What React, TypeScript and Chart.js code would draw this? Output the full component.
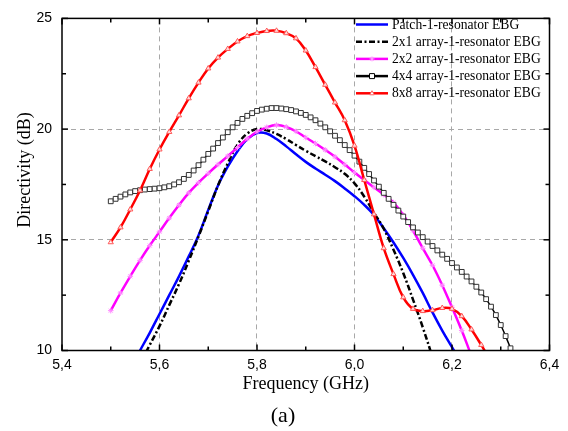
import React, { useEffect, useRef } from "react";
import { Chart, registerables } from "chart.js";

Chart.register(...registerables);

// ---------- data ----------
const seriesNames = [
  "Patch-1-resonator EBG",
  "2x1 array-1-resonator EBG",
  "2x2 array-1-resonator EBG",
  "4x4 array-1-resonator EBG",
  "8x8 array-1-resonator EBG",
];

const xMajorTicks = [5.4, 5.6, 5.8, 6.0, 6.2, 6.4];
const xMinorTicks = [5.5, 5.7, 5.9, 6.1, 6.3];
const yMajorTicks = [10, 15, 20, 25];
const yMinorTicks = [12.5, 17.5, 22.5];

const freqPatch = [
  5.54, 5.56, 5.58, 5.6, 5.62, 5.64, 5.66, 5.68, 5.7, 5.72, 5.74, 5.76, 5.78, 5.8, 5.82, 5.84, 5.86, 5.88,
  5.9, 5.92, 5.94, 5.96, 5.98, 6.0, 6.02, 6.04, 6.06, 6.08, 6.1, 6.12, 6.14, 6.16, 6.18, 6.2, 6.22,
];
const dirPatch = [
  9.2, 10.0, 10.8, 11.65, 12.5, 13.35, 14.25, 15.2, 16.35, 17.45, 18.3, 19.0, 19.55, 19.82, 19.8, 19.55, 19.22, 18.86,
  18.52, 18.22, 17.94, 17.65, 17.32, 16.97, 16.58, 16.12, 15.52, 14.88, 14.18, 13.42, 12.6, 11.72, 10.9, 10.15, 9.4,
];

const freq2x1 = [
  5.56, 5.58, 5.6, 5.62, 5.64, 5.66, 5.68, 5.7, 5.72, 5.74, 5.76, 5.78, 5.8, 5.82, 5.84, 5.86, 5.88, 5.9,
  5.92, 5.94, 5.96, 5.98, 6.0, 6.02, 6.04, 6.06, 6.08, 6.1, 6.12, 6.14, 6.16,
];
const dir2x1 = [
  9.4, 10.25, 11.1, 12.05, 13.0, 14.05, 15.15, 16.3, 17.45, 18.45, 19.3, 19.8, 20.0, 19.95, 19.78, 19.55, 19.28, 19.02,
  18.78, 18.54, 18.28, 17.98, 17.55, 16.95, 16.22, 15.5, 14.55, 13.5, 12.3, 11.05, 9.7,
];

const freq2x2 = [
  5.5, 5.52, 5.54, 5.56, 5.58, 5.6, 5.62, 5.64, 5.66, 5.68, 5.7, 5.72, 5.74, 5.76, 5.78, 5.8, 5.82, 5.84, 5.86,
  5.88, 5.9, 5.92, 5.94, 5.96, 5.98, 6.0, 6.02, 6.04, 6.06, 6.08, 6.1, 6.12, 6.14, 6.16, 6.18, 6.2, 6.22, 6.24,
];
const dir2x2 = [
  11.8, 12.6, 13.35, 14.07, 14.74, 15.36, 15.98, 16.57, 17.12, 17.58, 18.0, 18.4, 18.78, 19.17, 19.56, 19.88, 20.08,
  20.18, 20.1, 19.9, 19.62, 19.35, 19.06, 18.75, 18.4, 18.04, 17.7, 17.37, 17.04, 16.68, 16.12, 15.42, 14.62, 13.85,
  12.95, 11.95, 10.9, 9.75,
];

const freq4x4 = [
  5.5, 5.51, 5.52, 5.53, 5.54, 5.55, 5.56, 5.57, 5.58, 5.59, 5.6, 5.61, 5.62, 5.63, 5.64, 5.65, 5.66, 5.67, 5.68,
  5.69, 5.7, 5.71, 5.72, 5.73, 5.74, 5.75, 5.76, 5.77, 5.78, 5.79, 5.8, 5.81, 5.82, 5.83, 5.84, 5.85, 5.86, 5.87,
  5.88, 5.89, 5.9, 5.91, 5.92, 5.93, 5.94, 5.95, 5.96, 5.97, 5.98, 5.99, 6.0, 6.01, 6.02, 6.03, 6.04, 6.05, 6.06,
  6.07, 6.08, 6.09, 6.1, 6.11, 6.12, 6.13, 6.14, 6.15, 6.16, 6.17, 6.18, 6.19, 6.2, 6.21, 6.22, 6.23, 6.24, 6.25,
  6.26, 6.27, 6.28, 6.29, 6.3, 6.31, 6.32,
];
const dir4x4 = [
  16.74, 16.85, 16.95, 17.05, 17.14, 17.2, 17.24, 17.27, 17.29, 17.31, 17.33, 17.37, 17.42, 17.5, 17.6, 17.75,
  17.93, 18.13, 18.37, 18.62, 18.88, 19.12, 19.37, 19.62, 19.86, 20.08, 20.28, 20.46, 20.6, 20.72, 20.82, 20.88,
  20.92, 20.95, 20.95, 20.93, 20.9, 20.86, 20.8, 20.73, 20.64, 20.53, 20.4, 20.25, 20.08, 19.9, 19.7, 19.5, 19.28,
  19.05, 18.8, 18.53, 18.25, 17.97, 17.68, 17.4, 17.12, 16.85, 16.58, 16.32, 16.05, 15.8, 15.56, 15.33, 15.12,
  14.92, 14.72, 14.52, 14.33, 14.14, 13.95, 13.75, 13.55, 13.34, 13.12, 12.88, 12.62, 12.32, 11.98, 11.6, 11.15,
  10.65, 10.1,
];

const freq8x8 = [
  5.5, 5.52, 5.54, 5.56, 5.58, 5.6, 5.62, 5.64, 5.66, 5.68, 5.7, 5.72, 5.74, 5.76, 5.78, 5.8, 5.82, 5.84, 5.86,
  5.88, 5.9, 5.92, 5.94, 5.96, 5.98, 6.0, 6.02, 6.04, 6.06, 6.08, 6.1, 6.12, 6.14, 6.16, 6.18, 6.2, 6.22, 6.24,
  6.26, 6.28,
];
const dir8x8 = [
  14.89, 15.56, 16.37, 17.23, 18.2, 19.08, 19.87, 20.62, 21.39, 22.1, 22.74, 23.23, 23.62, 23.96, 24.2, 24.34,
  24.43, 24.44, 24.33, 24.1, 23.55, 22.8, 22.0, 21.2, 20.4, 19.25, 17.7, 16.15, 14.62, 13.45, 12.4, 11.88, 11.78,
  11.82, 11.92, 11.88, 11.55, 10.95, 10.25, 9.5,
];

const pts = (xs: number[], ys: number[]) => xs.map((x, i) => ({ x, y: ys[i] }));

const SERIF = "'Liberation Serif', 'Times New Roman', serif";
const SANS = "'Liberation Sans', Arial, sans-serif";

type LegendSpec = { color: string; dash: number[]; marker: string | null; mFill: string; mStroke: string };
const legendSpecs: LegendSpec[] = [
  { color: "#0000ff", dash: [], marker: null, mFill: "", mStroke: "" },
  { color: "#000000", dash: [6, 2.5, 2, 2.5], marker: null, mFill: "", mStroke: "" },
  { color: "#ff00ff", dash: [], marker: "star", mFill: "#ff00ff", mStroke: "#ff99ff" },
  { color: "#000000", dash: [], marker: "rect", mFill: "#ffffff", mStroke: "#000000" },
  { color: "#ff0000", dash: [], marker: "triangle", mFill: "#ffffff", mStroke: "#ff6666" },
];

function drawMarker(ctx: CanvasRenderingContext2D, kind: string, x: number, y: number, fill: string, stroke: string) {
  ctx.save();
  ctx.setLineDash([]);
  ctx.lineWidth = 1;
  ctx.fillStyle = fill;
  ctx.strokeStyle = stroke;
  if (kind === "rect") {
    ctx.beginPath();
    ctx.rect(x - 2.5, y - 2.5, 5, 5);
    ctx.fill();
    ctx.stroke();
  } else if (kind === "triangle") {
    ctx.beginPath();
    ctx.moveTo(x, y - 2.6);
    ctx.lineTo(x + 2.3, y + 1.5);
    ctx.lineTo(x - 2.3, y + 1.5);
    ctx.closePath();
    ctx.fill();
    ctx.stroke();
  } else if (kind === "star") {
    ctx.beginPath();
    for (let k = 0; k < 4; k++) {
      const a = (k * Math.PI) / 4;
      ctx.moveTo(x - 2.5 * Math.cos(a), y - 2.5 * Math.sin(a));
      ctx.lineTo(x + 2.5 * Math.cos(a), y + 2.5 * Math.sin(a));
    }
    ctx.stroke();
  }
  ctx.restore();
}

const decorPlugin = {
  id: "decor",
  afterDraw(chart: any) {
    const { ctx, chartArea: a, scales } = chart;
    const xs = scales.x;
    const ys = scales.y;
    ctx.save();
    ctx.setLineDash([]);
    ctx.strokeStyle = "#000";
    ctx.lineWidth = 1.5;
    ctx.strokeRect(a.left, a.top, a.right - a.left, a.bottom - a.top);
    const line = (x1: number, y1: number, x2: number, y2: number) => {
      ctx.beginPath();
      ctx.moveTo(x1, y1);
      ctx.lineTo(x2, y2);
      ctx.stroke();
    };
    const xt = (vals: number[], len: number) => {
      for (const v of vals) {
        const p = xs.getPixelForValue(v);
        line(p, a.bottom, p, a.bottom - len);
        line(p, a.top, p, a.top + len);
      }
    };
    const yt = (vals: number[], len: number) => {
      for (const v of vals) {
        const p = ys.getPixelForValue(v);
        line(a.left, p, a.left + len, p);
        line(a.right, p, a.right - len, p);
      }
    };
    xt(xMajorTicks, 6);
    xt(xMinorTicks, 4);
    yt(yMajorTicks, 6);
    yt(yMinorTicks, 4);

    // axis titles
    ctx.fillStyle = "#000";
    ctx.font = `18px ${SERIF}`;
    ctx.textAlign = "center";
    ctx.textBaseline = "alphabetic";
    ctx.fillText("Frequency (GHz)", (a.left + a.right) / 2, 389);
    ctx.save();
    ctx.translate(30, 170);
    ctx.rotate(-Math.PI / 2);
    ctx.fillText("Directivity (dB)", 0, 0);
    ctx.restore();
    ctx.font = `22px ${SERIF}`;
    ctx.fillText("(a)", 283, 422);

    // legend
    ctx.font = `13.6px ${SERIF}`;
    ctx.textAlign = "left";
    ctx.textBaseline = "middle";
    legendSpecs.forEach((s, i) => {
      const y = 24.5 + i * 17.2;
      ctx.save();
      ctx.strokeStyle = s.color;
      ctx.lineWidth = 2.5;
      ctx.setLineDash(s.dash);
      line(356, y, 388, y);
      ctx.restore();
      if (s.marker) drawMarker(ctx, s.marker, 372, y, s.mFill, s.mStroke);
      ctx.fillStyle = "#000";
      ctx.fillText(seriesNames[i], 392, y + 0.5);
    });
    ctx.restore();
  },
};

export default function App() {
  const ref = useRef<HTMLCanvasElement | null>(null);
  useEffect(() => {
    document.body.style.margin = "0";
    const canvas = ref.current;
    if (!canvas) return;
    const chart = new Chart(canvas, {
      type: "line",
      data: {
        datasets: [
          {
            label: seriesNames[0],
            data: pts(freqPatch, dirPatch),
            borderColor: "#0000ff",
            borderWidth: 2.5,
            pointRadius: 0,
            tension: 0.4,
            order: 4,
            clip: 0,
          },
          {
            label: seriesNames[1],
            data: pts(freq2x1, dir2x1),
            borderColor: "#000000",
            borderWidth: 2.5,
            borderDash: [6, 2.5, 2, 2.5],
            pointRadius: 0,
            tension: 0.4,
            order: 3,
            clip: 0,
          },
          {
            label: seriesNames[2],
            data: pts(freq2x2, dir2x2),
            borderColor: "#ff00ff",
            borderWidth: 2.5,
            pointStyle: "star",
            pointRadius: 2.8,
            pointBorderWidth: 1,
            pointBorderColor: "#ff88ff",
            pointBackgroundColor: "#ff88ff",
            tension: 0.4,
            order: 2,
            clip: 0,
          },
          {
            label: seriesNames[3],
            data: pts(freq4x4, dir4x4),
            borderColor: "#000000",
            borderWidth: 1.5,
            pointStyle: "rect",
            pointRadius: 3.4,
            pointBorderWidth: 1,
            pointBorderColor: "#333333",
            pointBackgroundColor: "#ffffff",
            tension: 0.4,
            order: 1,
            clip: 0,
          },
          {
            label: seriesNames[4],
            data: pts(freq8x8, dir8x8),
            borderColor: "#ff0000",
            borderWidth: 2.5,
            pointStyle: "triangle",
            pointRadius: 3,
            pointBorderWidth: 1,
            pointBorderColor: "#ff5555",
            pointBackgroundColor: "rgba(255,255,255,0.85)",
            tension: 0.4,
            order: 0,
            clip: 0,
          },
        ],
      },
      options: {
        responsive: false,
        animation: false,
        devicePixelRatio: 1,
        layout: { padding: { left: 0, right: 18.5, top: 12.5, bottom: 0 } },
        plugins: { legend: { display: false }, tooltip: { enabled: false } },
        scales: {
          x: {
            type: "linear",
            min: 5.4,
            max: 6.4,
            afterBuildTicks: (s: any) => {
              s.ticks = xMajorTicks.map((v) => ({ value: v }));
            },
            afterFit: (s: any) => {
              s.height = 80.5;
            },
            ticks: {
              callback: (v: any) => Number(v).toFixed(1).replace(".", ","),
              font: { family: SANS, size: 14 },
              color: "#000",
              padding: 6,
              maxRotation: 0,
              autoSkip: false,
            },
            grid: {
              color: (c: any) =>
                c.tick && (Math.abs(c.tick.value - 5.4) < 1e-6 || Math.abs(c.tick.value - 6.4) < 1e-6)
                  ? "rgba(0,0,0,0)"
                  : "#a8a8a8",
              lineWidth: 1,
              drawTicks: false,
            },
            border: { display: false, dash: [5, 4] },
          },
          y: {
            type: "linear",
            min: 10,
            max: 25,
            afterBuildTicks: (s: any) => {
              s.ticks = yMajorTicks.map((v) => ({ value: v }));
            },
            afterFit: (s: any) => {
              s.width = 62;
            },
            ticks: {
              callback: (v: any) => String(v),
              font: { family: SANS, size: 14 },
              color: "#000",
              padding: 10,
              autoSkip: false,
            },
            grid: {
              color: (c: any) =>
                c.tick && (c.tick.value === 10 || c.tick.value === 25) ? "rgba(0,0,0,0)" : "#a8a8a8",
              lineWidth: 1,
              drawTicks: false,
            },
            border: { display: false, dash: [5, 4] },
          },
        },
      },
      plugins: [decorPlugin],
    } as any);
    return () => chart.destroy();
  }, []);
  return (
    <div style={{ width: 568, height: 431, background: "#fff" }}>
      <canvas ref={ref} width={568} height={431} style={{ display: "block" }} />
    </div>
  );
}
